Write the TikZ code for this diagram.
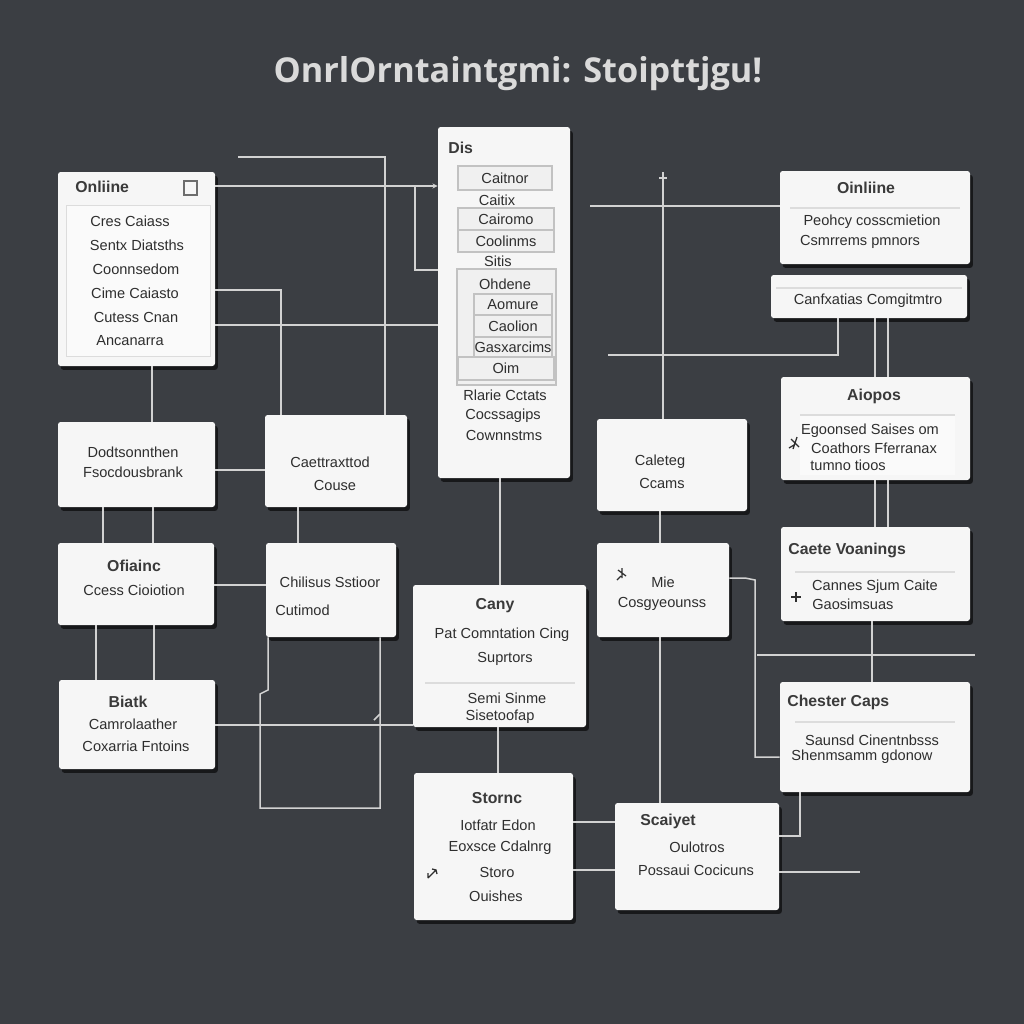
\documentclass[tikz,border=0pt]{standalone}
\usepackage{fontspec}
\setmainfont{Liberation Sans}
\newfontfamily\titlefont{Open Sans}
\usetikzlibrary{shadows,fit,calc,arrows.meta}
\definecolor{bgc}{HTML}{3B3E43}
\definecolor{boxfill}{HTML}{F6F6F6}
\definecolor{panelc}{HTML}{FAFAFA}
\definecolor{txtc}{HTML}{2E2E2E}
\definecolor{ttlc}{HTML}{3A3A3A}
\definecolor{wirec}{HTML}{D2D2D2}
\definecolor{subline}{HTML}{C2C2C2}
\definecolor{subfill}{HTML}{F0F0F0}
\definecolor{divc}{HTML}{DCDCDC}
\definecolor{titlec}{HTML}{DADADA}
\begin{document}
\begin{tikzpicture}[x=0.2mm,y=-0.2mm,
  box/.style={fill=boxfill, rounded corners=1.5pt, inner sep=0pt,
    drop shadow={shadow xshift=1.6pt, shadow yshift=-2.2pt, opacity=0.6, fill=black}},
  txt/.style={font=\fontsize{8.3}{10}\selectfont, text=txtc, inner sep=0pt},
  ttl/.style={font=\bfseries\fontsize{9}{11}\selectfont, text=ttlc, inner sep=0pt},
  wire/.style={draw=wirec, line width=0.3mm},
  sub/.style={draw=subline, fill=subfill, line width=0.25mm, inner sep=0pt},
  panel/.style={fill=panelc, draw=divc, line width=0.15mm, inner sep=0pt},
  divl/.style={draw=divc, line width=0.3mm},
  icon/.style={draw=txtc, line width=0.25mm}]
\fill[bgc] (0,0) rectangle (1024,1024);
\useasboundingbox (0,0) rectangle (1024,1024);

% title
\node[font=\titlefont\bfseries\fontsize{19.5}{22}\selectfont, text=titlec, inner sep=0pt] (title) at (518,74) {OnrlOrntaintgmi: Stoipttjgu!};

% ---------- boxes ----------
\node[box, fit={(58,172) (215,366)}] (online) {};
\node[box, fit={(438,127) (570,478)}] (dis) {};
\node[box, fit={(780,171) (970,264)}] (oin) {};
\node[box, fit={(771,275) (967,318)}] (canf) {};
\node[box, fit={(781,377) (970,480)}] (aio) {};
\node[box, fit={(781,527) (970,621)}] (cv) {};
\node[box, fit={(780,682) (970,792)}] (ch) {};
\node[box, fit={(58,422) (215,507)}] (dod) {};
\node[box, fit={(58,543) (214,625)}] (ofi) {};
\node[box, fit={(59,680) (215,769)}] (bia) {};
\node[box, fit={(265,415) (407,507)}] (cae) {};
\node[box, fit={(266,543) (396,637)}] (chi) {};
\node[box, fit={(413,585) (586,727)}] (cany) {};
\node[box, fit={(597,419) (747,511)}] (cal) {};
\node[box, fit={(597,543) (729,637)}] (mie) {};
\node[box, fit={(414,773) (573,920)}] (sto) {};
\node[box, fit={(615,803) (779,910)}] (sca) {};

% ---------- inner details ----------
% Online (left)
\node[panel, fit={(66,205) (210,356)}] (onlp) {};
\node[ttl, anchor=west] (t1) at (75,187) {Onliine};
\draw[draw=txtc!70, line width=0.3mm] (184,181) rectangle (197,195);
\node[txt] (o1) at (130,221) {Cres Caiass};
\node[txt] (o2) at (137,245) {Sentx Diatsths};
\node[txt] (o3) at (136,269) {Coonnsedom};
\node[txt] (o4) at (135,293) {Cime Caiasto};
\node[txt] (o5) at (136,317) {Cutess Cnan};
\node[txt] (o6) at (130,341) {Ancanarra};

% Dis
\node[ttl, anchor=west] (t2) at (448,148) {Dis};
\node[sub, fit={(458,166) (552,190)}] (d1) {};
\node[txt] at (d1) {Caitnor};
\node[txt] (d2) at (497,200) {Caitix};
\node[sub, fit={(458,208) (554,230)}] (d3) {};
\node[txt] at (d3) {Cairomo};
\node[sub, fit={(458,230) (554,252)}] (d4) {};
\node[txt] at (d4) {Coolinms};
\node[txt] (d5) at (498,261) {Sitis};
\node[sub, fit={(457,269) (556,385)}] (d6) {};
\node[txt] (d7) at (505,284) {Ohdene};
\node[sub, fit={(474,294) (552,315)}] (d8) {};
\node[txt] at (d8) {Aomure};
\node[sub, fit={(474,315) (552,337)}] (d9) {};
\node[txt] at (d9) {Caolion};
\node[sub, fit={(474,337) (552,357)}] (d10) {};
\node[txt] at (d10) {Gasxarcims};
\node[sub, fit={(458,357) (554,380)}] (d11) {};
\node[txt] at (d11) {Oim};
\node[txt] (d12) at (505,395) {Rlarie Cctats};
\node[txt] (d13) at (503,416) {Cocssagips};
\node[txt] (d14) at (504,435) {Cownnstms};

% Online (right)
\node[ttl] (t3) at (866,188) {Oinliine};
\draw[divl] (790,208) -- (960,208);
\node[txt] (r1) at (872,222) {Peohcy cosscmietion};
\node[txt] (r2) at (860,242) {Csmrrems pmnors};

% Canfxatias
\draw[divl] (776,288) -- (962,288);
\node[txt] (c1) at (868,301) {Canfxatias Comgitmtro};

% Aiopos
\node[ttl] (t4) at (874,396) {Aiopos};
\node[panel, draw=none, fit={(800,415) (955,475)}] (aiop) {};
\draw[divl] (800,415) -- (955,415);
\node[txt] (a1) at (870,431) {Egoonsed Saises om};
\node[txt] (a2) at (874,448) {Coathors Fferranax};
\node[txt, anchor=west] (a3) at (810,465) {tumno tioos};
\draw[icon] (791,439) -- (799,447) (797,437) -- (793,449) (789,448) -- (794,445);

% Caete Voanings
\node[ttl, anchor=west] (t5) at (788,550) {Caete Voanings};
\draw[divl] (795,572) -- (955,572);
\node[txt] (v1) at (875,587) {Cannes Sjum Caite};
\node[txt, anchor=west] (v2) at (812,604) {Gaosimsuas};
\draw[icon] (791,597) -- (801,597) (796,592) -- (796,602);

% Chester Caps
\node[ttl, anchor=west] (t6) at (787,702) {Chester Caps};
\draw[divl] (795,722) -- (955,722);
\node[txt] (h1) at (872,740) {Saunsd Cinentnbsss};
\node[txt] (h2) at (862,757) {Shenmsamm gdonow};

% left column
\node[txt] (l1) at (133,452) {Dodtsonnthen};
\node[txt] (l2) at (133,472) {Fsocdousbrank};
\node[ttl] (l3) at (134,566) {Ofiainc};
\node[txt] (l4) at (134,590) {Ccess Cioiotion};
\node[ttl] (l5) at (128,702) {Biatk};
\node[txt] (l6) at (133,724) {Camrolaather};
\node[txt] (l7) at (136,746) {Coxarria Fntoins};

% middle column
\node[txt] (m1) at (330,462) {Caettraxttod};
\node[txt] (m2) at (335,485) {Couse};
\node[txt] (m3) at (330,582) {Chilisus Sstioor};
\node[txt, anchor=west] (m4) at (275,610) {Cutimod};

% Cany
\node[ttl] (y1) at (495,606) {Cany};
\node[txt] (y2) at (502,635) {Pat Comntation Cing};
\node[txt] (y3) at (505,659) {Suprtors};
\draw[divl] (425,683) -- (575,683);
\node[txt] (y4) at (507,698) {Semi Sinme};
\node[txt] (y5) at (500,717) {Sisetoofap};

% Caleteg
\node[txt] (g1) at (660,462) {Caleteg};
\node[txt] (g2) at (662,483) {Ccams};

% Mie
\node[txt] (e1) at (663,582) {Mie};
\node[txt] (e2) at (662,604) {Cosgyeounss};
\draw[icon] (618,570) -- (626,576) (622,568) -- (622,578) (621,576) -- (617,580);

% Stornc
\node[ttl] (s1) at (497,798) {Stornc};
\node[txt] (s2) at (498,825) {Iotfatr Edon};
\node[txt] (s3) at (500,848) {Eoxsce Cdalnrg};
\node[txt] (s4) at (497,872) {Storo};
\node[txt] (s5) at (496,896) {Ouishes};
\draw[icon] (428,878) -- (436,870) (432,869) -- (436,870) -- (437,874) (428,873) -- (428,878);

% Scaiyet
\node[ttl] (k1) at (668,821) {Scaiyet};
\node[txt] (k2) at (697,847) {Oulotros};
\node[txt] (k3) at (696,870) {Possaui Cocicuns};

% ---------- free ends ----------
\coordinate (f1) at (238,157);
\coordinate (f2) at (590,206);
\coordinate (f3) at (663,172);
\coordinate (f4) at (608,355);
\coordinate (f5) at (757,655);
\coordinate (f6) at (975,655);
\coordinate (f7) at (860,872);

% ---------- connectors ----------
\draw[wire, -{Stealth[length=3pt,width=3pt]}] (online.east |- 0,186) -- (dis.west |- 0,186);
\draw[wire] (415,186) -- (415,270) -- (dis.west |- 0,270);
\draw[wire] (f1) -| (cae.north -| 385,0);
\draw[wire] (online.east |- 0,290) -| (cae.north -| 281,0);
\draw[wire] (online.east |- 0,325) -- (dis.west |- 0,325);
\draw[wire] (online.south -| 152,0) -- (dod.north -| 152,0);
\draw[wire] (dod.east |- 0,470) -- (cae.west |- 0,470);
\draw[wire] (dod.south -| 103,0) -- (ofi.north -| 103,0);
\draw[wire] (dod.south -| 153,0) -- (ofi.north -| 153,0);
\draw[wire] (cae.south -| 298,0) -- (chi.north -| 298,0);
\draw[wire] (ofi.east |- 0,585) -- (chi.west |- 0,585);
\draw[wire] (ofi.south -| 96,0) -- (bia.north -| 96,0);
\draw[wire] (ofi.south -| 154,0) -- (bia.north -| 154,0);
\draw[wire] (bia.east |- 0,725) -- (cany.west |- 0,725);
\draw[wire] (chi.south -| 268,0) -- (268,690) -- (260,694) -- (260,808) -- (380,808) -- (chi.south -| 380,0);
\draw[wire] (374,720) -- (380,714);
\draw[wire] (dis.south -| 500,0) -- (cany.north -| 500,0);
\draw[wire] (cany.south -| 498,0) -- (sto.north -| 498,0);
\draw[wire] (f2) -- (oin.west |- 0,206);
\draw[wire] (f3) -- (cal.north -| 663,0);
\draw[wire] (659,178) -- (667,178);
\draw[wire] (f4) -| (canf.south -| 838,0);
\draw[wire] (canf.south -| 875,0) -- (aio.north -| 875,0);
\draw[wire] (canf.south -| 888,0) -- (aio.north -| 888,0);
\draw[wire] (aio.south -| 875,0) -- (cv.north -| 875,0);
\draw[wire] (aio.south -| 888,0) -- (cv.north -| 888,0);
\draw[wire] (cal.south -| 660,0) -- (mie.north -| 660,0);
\draw[wire] (mie.east |- 0,578) -- (745,578) -- (755,580) -- (755,757) -- (ch.west |- 0,757);
\draw[wire] (mie.south -| 660,0) -- (sca.north -| 660,0);
\draw[wire] (f5) -- (f6);
\draw[wire] (cv.south -| 872,0) -- (ch.north -| 872,0);
\draw[wire] (ch.south -| 800,0) |- (sca.east |- 0,836);
\draw[wire] (sto.east |- 0,822) -- (sca.west |- 0,822);
\draw[wire] (sto.east |- 0,870) -- (sca.west |- 0,870);
\draw[wire] (sca.east |- 0,872) -- (f7);
\end{tikzpicture}
\end{document}
